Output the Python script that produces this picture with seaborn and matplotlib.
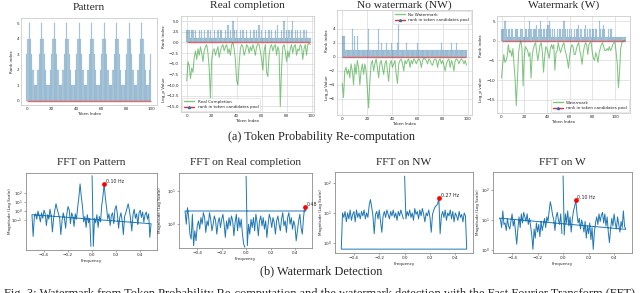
import numpy as np
import pandas as pd
import matplotlib
matplotlib.use("Agg")
import matplotlib.pyplot as plt
import seaborn as sns
from matplotlib.lines import Line2D
from matplotlib.ticker import FixedLocator, NullLocator

# ---------------- data ----------------
pattern_rank = [3,4,5,4,3,2,1,1,1,2, 3,4,5,4,3,2,1,1,1,2, 3,4,5,4,3,2,1,1,1,2,
                3,4,5,4,3,2,1,1,1,2, 3,4,5,4,3,2,1,1,1,2, 3,4,5,4,3,2,1,1,1,2,
                3,4,5,4,3,2,1,1,1,2, 3,4,5,4,3,2,1,1,1,2, 3,4,5,4,3,2,1,1,1,2,
                3,4,5,4,3,2,1,1,2,3]

real_rank = [3,3,3,1,3,3,1,3,1,1, 3,1,3,1,3,1,1,3,1,3, 1,1,3,1,1,3,1,3,3,1,
             1,3,1,4,1,3,1,5,3,1, 3,1,1,3,1,3,1,1,3,1, 1,3,1,1,3,1,3,1,4,1,
             3,1,1,3,1,1,3,1,3,1, 1,3,1,4,1,1,3,1,5,1, 3,1,3,1,3,5,1,3,1,3,
             1,3,1,1,3,1,3,1,1,1]
real_logp = [-9,-4.5,-5.5,-8.5,-6,-7,-3.5,-2,-4,-1.5, -3,-1,-2.5,-4.5,-2,-1,-0.5,-2.5,-6,-13,
             -4,-2,-1.5,-3,-2,-1,-3.5,-2,-1,-0.5, -2,-1,-0.5,-2.5,-1.5,-3,-0.5,0,-1.5,-4,
             -9,-10,-5,-1.5,-0.5,-1,-3,-2,-0.5,-1, -2.5,-1,-2,-0.5,-1.5,-3,-1,-0.3,-0.5,-2,
             -4,-6.5,-2,-0.5,-7,-8,-3,-1,-0.5,-2, -1,-0.5,-3,-1,-2,-15,-6,-1,-0.5,-2,
             -4.5,-2,-3.5,-1.5,-0.5,-2.5,-1,-0.5,-3,-1.5, -2,-0.5,-1,-4,-1.5,-0.5,-3,-0.5,-0.2,-0.5]

nw_rank = [3,3,3,1,1,1,1,1,4,1, 3,1,3,1,1,1,1,1,1,1, 1,4,1,1,1,1,1,1,1,4,
           1,2,1,1,1,2,1,1,1,2, 1,1,1,1,2,5,1,1,1,1, 1,2,1,1,1,1,1,1,1,1,
           2,1,1,1,1,1,1,1,1,1, 1,1,1,1,1,1,1,1,1,2, 1,1,1,1,1,1,1,2,1,1,
           1,2,1,1,1,1,1,1,1,1]
nw_logp = [-3.8,-5.8,-2,-1.5,-2.5,-1.8,-3,-1,-2,-4, -1,-2.5,-0.5,-1.5,-4,-2,-1,-2.5,-1,-2,
           -4.5,-7.3,-3.5,-1,-0.5,-2,-1,-0.3,-1.5,-3, -1,-0.5,-1.5,-2.5,-1,-0.5,-2,-3.5,-1,-0.5,
           -1.5,-1,-0.5,-2.5,-3.8,-1,-0.5,-0.3,-1,-2, -0.5,-1,-0.5,-0.3,-1.5,-0.5,-1,-0.3,-0.5,-1,
           -0.5,-0.3,-0.5,-1.5,-0.5,-0.2,-0.3,-0.5,-1,-0.3, -0.5,-1,-1.2,-0.5,-0.3,-0.5,-1.5,-0.5,-0.3,-1,
           -0.5,-1.2,-2,-1,-0.5,-0.3,-1.5,-0.5,-1,-2, -0.5,-0.3,-0.5,-1,-0.5,-0.3,-0.5,-1,-0.5,-1.2]

w_rank = [3,3,3,5,3,1,3,3,1,3, 3,1,3,3,3,1,1,3,3,1, 1,3,3,1,3,5,3,1,3,3,
          3,4,1,3,5,3,1,3,3,1, 3,4,5,3,1,3,1,3,1,3, 1,3,3,1,3,5,3,1,3,1,
          3,1,3,1,3,1,3,3,4,1, 3,1,1,3,4,1,3,1,3,1, 3,3,1,3,3,1,5,3,1,3,
          4,3,1,1,3,1,3,3,1,1, 1,1,1,1,1,1,1,1,1,1]
w_logp = [-9.5,-6,-3.5,-5.5,-5,-4,-1,-3,-2.5,-4, -2,-6,-10,-16.5,-10,-3,-1,0,-2,-11.5,
          -4,-1.5,-2,-2.5,-4,-3,-9.5,-4,-2,-1, -0.5,-3,-5,-3,-1,-0.5,-3,-8,-4,-1.5,
          -2,-3,-4.5,-2,-1,-2,-1,-7.5,-3,-2.5, -0.5,-2,-3,-2,-1,-0.5,-2.5,-3.5,-5,-7,
          -4,-2,-1,-1.5,-3.5,-3.5,-2,-1,-0.5,-2.5, -4,-6,-3,-1.5,-0.5,-1,-3.5,-1,-0.5,-0.5,
          -3,-4.5,-5,-3,-4,-5.5,-3,-2,-1,-0.5, -1.5,-2.5,-2.5,-2,-2.5,-1.5,-2.5,-2,-1,-0.5,
          -0.5,-3,-6,-12,-8,-2,-0.5,0,0,0]

# FFT magnitudes (log10), listed from the lowest to the highest frequency
fft_pattern_log10 = [
    -0.4,-2.8,-0.6,-0.3,-0.9,0.0,-0.5,-1.2,-0.2,-0.8, 0.1,-0.3,-1.6,-0.4,-0.9,0.2,-0.5,-2.3,-0.8,0.1,
    0.8,0.2,-0.3,-0.7,-2.6,-1.1,-0.2,-0.8,-1.9,-0.3, 0.5,0.1,-1.4,-0.2,-0.6,-1.7,-0.3,-0.9,0.4,1.5,
    3.0,1.6,0.5,-1.2,-0.6,-1.8,-0.4,-1.3,-0.8,-3.9,
    3.9,
    -3.9,-0.8,-1.3,-0.4,-1.8,-0.6,-1.2,0.6,1.6,3.0, 1.5,0.4,-0.9,-0.3,-1.6,-0.5,-0.2,-1.4,0.2,0.6,
    -0.3,-1.9,-0.7,-0.2,-1.1,-2.6,-0.6,-0.2,0.3,0.8, 0.1,-0.9,-2.2,-0.4,0.2,-0.8,-0.3,-1.5,-0.2,0.1,
    -0.7,-0.1,-1.2,-0.4,-0.1,-0.9,-0.3,-2.9,-1.4]
fft_real_log10 = [
    0.40,0.0,0.5,0.2,-0.3,-0.45,0.3,-0.65,-0.2,-0.5, -0.05,0.1,-0.15,0.2,0.0,0.35,0.2,-0.25,0.1,-0.05,
    0.35,0.15,-0.2,0.0,0.25,0.1,-0.3,0.05,0.2,-0.1, 0.15,0.3,0.0,-0.4,0.1,-0.15,0.2,-0.05,0.25,0.1,
    -0.35,0.05,0.3,-0.2,0.2,-0.1,0.15,-0.3,-0.6,-0.7,
    1.45,
    -0.65,0.0,-0.3,0.15,-0.1,0.2,-0.2,0.3,0.05,-0.35, 0.1,0.25,-0.05,0.2,-0.15,0.1,-0.4,0.0,0.3,0.15,
    -0.1,0.2,0.05,-0.3,0.1,0.25,0.0,-0.2,0.15,0.35, -0.05,0.1,-0.25,0.2,0.35,0.0,0.2,-0.15,0.1,-0.05,
    -0.5,-0.2,0.1,0.3,-0.1,-0.3,0.2,0.53,0.40]
fft_nw_log10 = [
    -0.22,1.0,0.85,1.05,0.7,1.0,0.8,1.1,0.75,0.95, 1.05,0.7,1.1,0.85,1.0,0.8,1.05,0.9,1.1,0.8,
    1.0,0.85,1.25,1.45,1.2,0.9,0.3,0.95,1.05,0.8, 1.1,0.7,0.35,0.9,1.05,0.85,1.1,0.95,0.8,1.05,
    0.9,1.1,0.85,1.0,0.75,1.05,0.9,1.1,0.95,0.8,
    2.24,
    0.8,1.05,0.9,1.1,0.85,1.0,0.75,1.15,0.95,1.05, 0.8,1.1,0.9,1.15,0.95,0.7,1.0,0.9,1.1,0.85,
    0.35,0.95,1.1,1.2,1.25,1.3,1.5,0.3,0.9,1.05, 0.85,1.1,0.75,1.0,0.9,1.1,0.8,1.05,0.7,1.0,
    0.9,0.75,1.05,0.85,0.95,0.7,1.0,0.9,-0.22]
fft_w_log10 = [
    1.06,1.0,0.75,1.3,0.85,0.9,0.65,1.05,0.8,0.7, 0.95,1.2,0.8,1.0,0.6,0.2,0.7,1.1,0.75,1.2,
    0.9,1.25,1.1,0.95,1.2,0.85,1.05,0.8,0.5,0.03, 0.7,0.4,0.9,0.6,0.85,0.45,0.95,0.65,0.85,1.05,
    0.75,1.1,0.95,1.3,1.6,1.4,1.15,1.0,0.65,1.1, 1.25,1.0,0.85,1.2,0.55,
    2.45,
    0.5,1.2,0.9,1.3,0.8,1.1,0.6,1.05,1.3,1.45, 1.66,1.2,0.9,1.05,0.7,1.0,0.85,0.6,0.95,0.4,
    0.8,0.55,0.9,0.35,0.75,0.03,0.6,0.9,1.1,0.85, 1.2,0.95,1.15,1.25,0.9,1.2,0.8,1.1,0.6,0.25,
    0.7,1.05,0.8,1.2,0.9,0.7,1.1,0.85,0.6,0.95, 0.75,1.3,0.8,0.69]

peak_freqs = [0.10, 0.48, 0.27, 0.10]
peak_labels = ["0.10 Hz", "0.48", "0.27 Hz", "0.10 Hz"]
top_titles = ["Pattern", "Real completion", "No watermark (NW)", "Watermark (W)"]
bottom_titles = ["FFT on Pattern", "FFT on Real completion", "FFT on NW", "FFT on W"]
legend_names = ["Real Completion", "No Watermark", "Watermark"]

# ---------------- style ----------------
sns.set_theme(style="white")
plt.rcParams["font.family"] = ["DejaVu Sans"]
plt.rcParams["mathtext.fontset"] = "dejavusans"

BLUE = "#1f77b4"
GREEN = "#2ca02c"
RED = "#e03030"
SERIF = ["Liberation Serif", "DejaVu Serif"]
TS = 3.0  # tiny font

W, H = 640, 293
fig = plt.figure(figsize=(6.4, 2.93), dpi=100)
fig.patch.set_facecolor("white")


def add_ax(x0, y0, x1, y1):
    return fig.add_axes([x0 / W, 1 - y1 / H, (x1 - x0) / W, (y1 - y0) / H])


def style_top(ax, grid=True):
    for s in ax.spines.values():
        s.set_color("0.8")
        s.set_linewidth(0.6)
    ax.tick_params(labelsize=TS, length=0, pad=1.5)
    if grid:
        ax.grid(True, color="0.85", linewidth=0.5)
    ax.set_axisbelow(True)


def draw_bars(ax, ranks):
    idx = np.arange(len(ranks))
    sns.barplot(x=idx, y=ranks, native_scale=True, color=BLUE, alpha=0.38,
                width=1.0, edgecolor=BLUE, linewidth=0.15, errorbar=None, ax=ax)
    ax.hlines(0, idx[0], idx[-1], color=RED, linewidth=1.0, alpha=0.7, zorder=3)
    return idx


# ---------------- top row ----------------
top_boxes = [(21, 18, 157, 105), (181, 16, 314, 112), (337, 10, 472, 115), (497, 16, 630, 113)]
title_y = [7, 5, 5, 5]
ax_p = add_ax(*top_boxes[0])
draw_bars(ax_p, pattern_rank)
style_top(ax_p, grid=False)
ax_p.set_xlim(-4.6, 104.2)
ax_p.set_ylim(-0.26, 5.34)
ax_p.set_xticks([0, 20, 40, 60, 80, 100])
ax_p.set_xlabel("Token Index", fontsize=TS, labelpad=1)
ax_p.set_ylabel("Rank index", fontsize=TS, labelpad=2)

series = [(real_rank, real_logp), (nw_rank, nw_logp), (w_rank, w_logp)]
xlims = [(-4.6, 102), (-4.2, 103.4), (-4.0, 113.2)]
ylims = [(-16.3, 6.2), (-8.3, 6.7), (-18.4, 6.3)]
yticks = [[5.0, 2.5, 0.0, -2.5, -5.0, -7.5, -10.0, -12.5, -15.0],
          [4, 2, 0, -2, -4, -6], [5, 0, -5, -10, -15]]
label_x = [-0.125, -0.075, -0.12]
label_y = [(0.79, 0.23), (0.71, 0.26), (0.69, 0.24)]
logp_names = ["Log_p Value", "Log_p Value", "Log_p value"]
leg_locs = ["lower left", "upper right", "lower right"]

top_axes = [ax_p]
for i, (ranks, logp) in enumerate(series):
    ax = add_ax(*top_boxes[i + 1])
    top_axes.append(ax)
    idx = draw_bars(ax, ranks)
    sns.lineplot(x=idx, y=logp, color=GREEN, alpha=0.6, linewidth=0.75,
                 estimator=None, legend=False, ax=ax)
    style_top(ax)
    ax.set_xlim(*xlims[i])
    ax.set_ylim(*ylims[i])
    ax.set_yticks(yticks[i])
    ax.set_xticks([0, 20, 40, 60, 80, 100])
    ax.set_xlabel("Token Index", fontsize=TS, labelpad=1)
    ax.set_ylabel("")
    ax.text(label_x[i], label_y[i][0], "Rank index", transform=ax.transAxes,
            rotation=90, ha="center", va="center", fontsize=TS)
    ax.text(label_x[i], label_y[i][1], logp_names[i], transform=ax.transAxes,
            rotation=90, ha="center", va="center", fontsize=TS)
    handles = [Line2D([], [], color=GREEN, alpha=0.6, lw=1.0),
               Line2D([], [], color=RED, lw=1.0, marker="^", markersize=1.5,
                      markerfacecolor=BLUE, markeredgecolor=BLUE)]
    leg = ax.legend(handles, [legend_names[i], "rank in token candidates pool"],
                    loc=leg_locs[i], fontsize=TS, frameon=True, borderpad=0.4,
                    handlelength=2.5, labelspacing=0.3, borderaxespad=0.3)
    leg.get_frame().set_linewidth(0.4)
    leg.get_frame().set_edgecolor("0.8")

for ax, t, ty in zip(top_axes, top_titles, title_y):
    pos = ax.get_position()
    fig.text((pos.x0 + pos.x1) / 2, 1 - ty / H, t, ha="center", va="center",
             fontsize=8.2, family=SERIF)

# ---------------- bottom row ----------------
bot_boxes = [(26, 173, 157, 250), (179, 173, 312, 248), (335, 172, 473, 253), (493, 172, 632, 253)]
fft_data = [fft_pattern_log10, fft_real_log10, fft_nw_log10, fft_w_log10]
fft_ylims = [(-4.3, 4.2), (-0.72, 1.55), (-0.35, 2.38), (-0.09, 2.58)]
fft_ticks = [[-1, 0, 1, 2], [0, 1], [0, 1, 2], [0, 1, 2]]
fft_label_x = [-0.11, -0.13, -0.09, -0.095]

for i in range(4):
    ax = add_ax(*bot_boxes[i])
    mags_sorted = 10.0 ** np.asarray(fft_data[i])
    n = len(mags_sorted)
    freq = np.fft.fftfreq(n)
    mags = np.fft.ifftshift(mags_sorted)
    df = pd.DataFrame({"freq": freq, "mag": mags})
    sns.lineplot(data=df, x="freq", y="mag", sort=False, estimator=None,
                 color=BLUE, linewidth=0.7, legend=False, ax=ax)
    ax.set_yscale("log")
    k = int(np.argmin(np.abs(freq - peak_freqs[i])))
    ax.plot(freq[k], mags[k], "o", color="red", markersize=2.4, zorder=4)
    ax.annotate(peak_labels[i], (freq[k], mags[k]), xytext=(1.2, 0.6),
                textcoords="offset points", fontsize=3.4)
    ax.set_ylim(10 ** fft_ylims[i][0], 10 ** fft_ylims[i][1])
    ax.yaxis.set_major_locator(FixedLocator([10.0 ** e for e in fft_ticks[i]]))
    ax.yaxis.set_minor_locator(NullLocator())
    ax.set_xticks([-0.4, -0.2, 0.0, 0.2, 0.4])
    for s in ax.spines.values():
        s.set_color("0.55")
        s.set_linewidth(0.6)
    ax.tick_params(labelsize=TS, length=1.2, width=0.4, pad=1.2, color="0.4",
                   bottom=True, left=True)
    ax.set_xlabel("Frequency", fontsize=TS, labelpad=1)
    ax.set_ylabel("Magnitude (Log Scale)", fontsize=TS)
    ax.yaxis.set_label_coords(fft_label_x[i], 0.5)
    pos = ax.get_position()
    fig.text((pos.x0 + pos.x1) / 2, 1 - 163 / H, bottom_titles[i], ha="center",
             va="center", fontsize=8.2, family=SERIF)

# ---------------- captions ----------------
fig.text(321 / W, 1 - 137 / H, "(a) Token Probability Re-computation", ha="center",
         va="center", fontsize=8.8, family=SERIF)
fig.text(321 / W, 1 - 271 / H, "(b) Watermark Detection", ha="center",
         va="center", fontsize=8.8, family=SERIF)
fig.text(4 / W, 1 - 297 / H,
         "Fig. 3: Watermark from Token Probability Re-computation and the watermark detection with the Fast Fourier Transform (FFT)",
         ha="left", va="baseline", fontsize=8.9, family=SERIF)

fig.savefig("out.png", dpi=100, facecolor="white")
